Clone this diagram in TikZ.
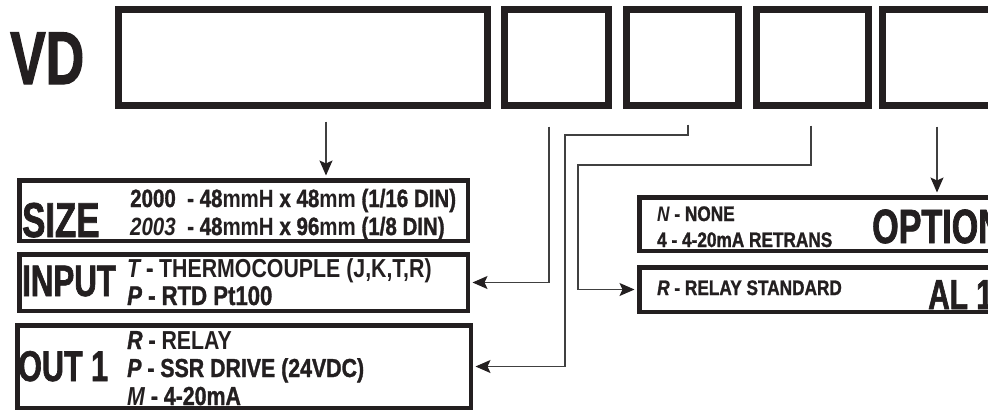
\documentclass[tikz,border=0pt]{standalone}
\usepackage{fontspec}
\usepackage{tikz}
\usetikzlibrary{arrows.meta,calc}
\newfontfamily\headfont[FakeStretch=0.71,BoldFeatures={FakeBold=1.5}]{Liberation Sans}
\newfontfamily\condfont[FakeStretch=0.82,BoldFeatures={FakeBold=1.2},
  BoldItalicFeatures={FakeBold=1.2}]{Liberation Sans}
\newfontfamily\medfont[FakeStretch=0.82]{Liberation Sans}
\definecolor{boxblack}{HTML}{231F20}
\definecolor{wiregrey}{HTML}{404040}

\begin{document}
\begin{tikzpicture}[
    x=1pt, y=-1pt,
    codebox/.style={draw=boxblack, line width=7pt, rectangle, inner sep=0pt,
                    minimum height=96pt},
    fieldbox/.style={draw=boxblack, line width=4.5pt, rectangle, inner sep=0pt},
    conn/.style={-{Stealth[length=15pt,width=13pt,inset=3pt,color=boxblack]},
                 line width=1.2pt, color=wiregrey, shorten >=2.5pt},
    head/.style={anchor=base west, inner sep=0pt, text=boxblack},
    line/.style={anchor=base west, inner sep=0pt, text=boxblack,
                 font=\condfont\bfseries\fontsize{26}{28}\selectfont},
    smline/.style={line, font=\condfont\bfseries\fontsize{21}{24}\selectfont},
]
\clip (0,0) rectangle (988,413);

% --- Order code: VD + five code boxes ---
\node[head, font=\headfont\bfseries\fontsize{75}{76}\selectfont] (vd) at (10,84) {VD};
\node[codebox, minimum width=369pt] (b1) at (303,57.5) {};
\node[codebox, minimum width=104pt] (b2) at (556.5,57.5) {};
\node[codebox, minimum width=112pt] (b3) at (682.5,57.5) {};
\node[codebox, minimum width=112pt] (b4) at (812.5,57.5) {};
\node[codebox, minimum width=112pt] (b5) at (938.5,57.5) {};

% --- Field boxes, left column ---
\node[fieldbox, minimum width=448.5pt, minimum height=60.5pt] (size) at (243.5,210.5) {};
\node[fieldbox, minimum width=448.5pt, minimum height=56.5pt] (input) at (243.5,282.5) {};
\node[fieldbox, minimum width=453.5pt, minimum height=82.5pt] (out) at (244,366.5) {};

% --- Field boxes, right column (run off the edge) ---
\node[fieldbox, minimum width=368.5pt, minimum height=53.5pt] (option) at (823.5,224) {};
\node[fieldbox, minimum width=368.5pt, minimum height=44.5pt] (alarm) at (823.5,289.5) {};

% --- Headings ---
\node[head, font=\headfont\bfseries\fontsize{49}{50}\selectfont] (sizelbl) at (22,237) {SIZE};
\node[head, font=\headfont\bfseries\fontsize{44}{45}\selectfont] (inputlbl) at (22,296) {INPUT};
\node[head, font=\headfont\bfseries\fontsize{43}{44}\selectfont] (outlbl) at (18,381) {OUT 1};
\node[head, font=\headfont\bfseries\fontsize{48}{49}\selectfont] (optionlbl) at (872,243) {OPTION};
\node[head, font=\headfont\bfseries\fontsize{42}{43}\selectfont] (alarmlbl) at (928,309) {AL 1};

% --- Choices ---
\node[line, font=\condfont\bfseries\fontsize{25}{28}\selectfont] (sz1) at (130,207)
     {2000~~- 48{\medfont mmH} x 48{\medfont mm} (1/16 DIN)};
\node[line, font=\condfont\bfseries\fontsize{25}{28}\selectfont] (sz2) at (130,235)
     {{\medfont\itshape 2003}~~- 48{\medfont mmH} x 96{\medfont mm} (1/8 DIN)};
\node[line] (in1) at (127,277)
     {{\medfont\itshape T} - {\medfont THERMOCOUPLE (J,K,T,R)}};
\node[line, font=\condfont\bfseries\fontsize{27}{28}\selectfont] (in2) at (127,305)
     {{\itshape P} - RTD Pt100};
\node[line] (o1) at (127,349) {{\itshape R} - {\medfont RELAY}};
\node[line] (o2) at (127,377) {{\itshape P} - SSR DRIVE (24VDC)};
\node[line] (o3) at (127,405) {{\medfont\itshape M} - 4-20mA};
\node[smline] (op1) at (657,221) {{\medfont\itshape N} - NONE};
\node[smline] (op2) at (657,247) {4 - 4-20mA RETRANS};
\node[smline] (al1) at (657,295) {{\itshape R} - RELAY STANDARD};

% --- Connectors from code boxes to fields ---
\coordinate (s1) at ($(b1.south)+(23,12.5)$);
\coordinate (s2) at ($(b2.south)+(-7.5,17.5)$);
\coordinate (s3) at ($(b3.south)+(5.5,15.5)$);
\coordinate (s4) at ($(b4.south)+(-1.5,16.5)$);
\coordinate (s5) at ($(b5.south)+(-1.5,17.5)$);
\coordinate (k3) at (565,135);
\coordinate (k4) at (578,165);
\draw[conn] (s1) -- (s1 |- size.north);
\draw[conn] (s2) |- (input.east);
\draw[conn] (s3) |- (k3) |- (out.east);
\draw[conn] (s4) |- (k4) |- (alarm.west);
\draw[conn] (s5) -- (s5 |- option.north);

\end{tikzpicture}
\end{document}
